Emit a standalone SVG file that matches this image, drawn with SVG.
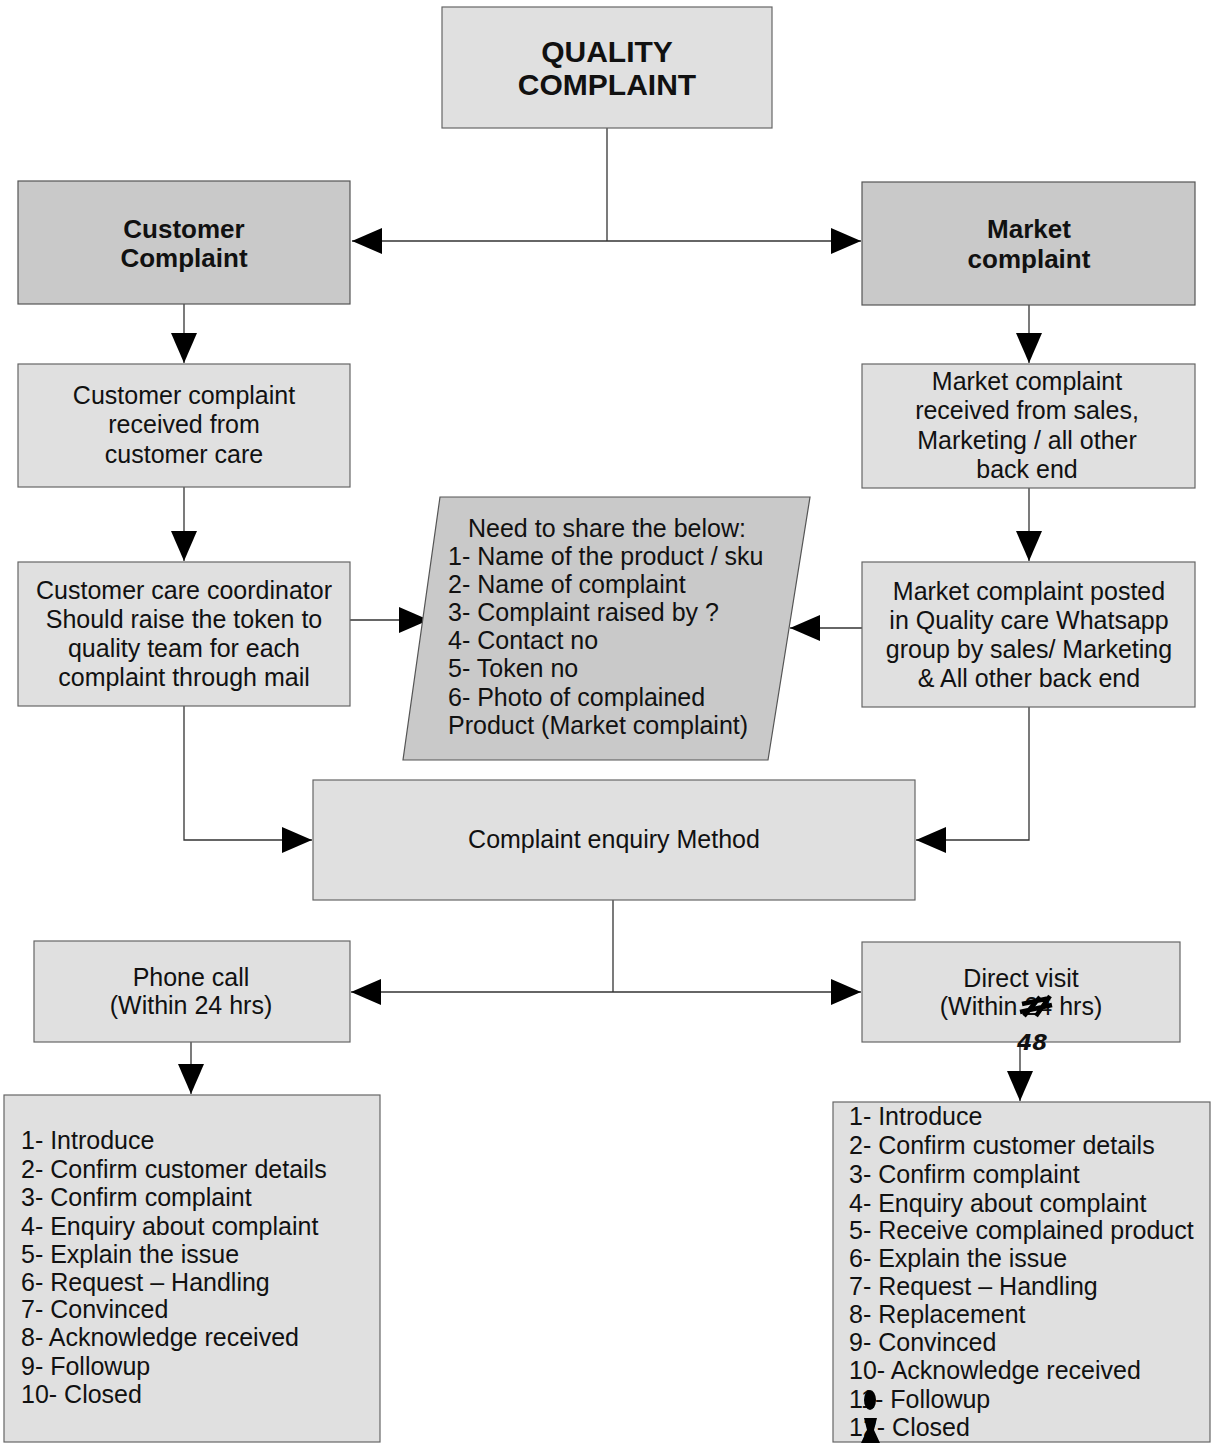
<svg xmlns="http://www.w3.org/2000/svg" width="1213" height="1444" viewBox="0 0 1213 1444">
<style>
text{font-family:"Liberation Sans",Arial,sans-serif;fill:#111;font-size:25px}
.c{text-anchor:middle}
.h1{font-size:30px;font-weight:bold}
.h2{font-size:26px;font-weight:bold}
.lt{fill:#e0e0e0;stroke:#666;stroke-width:1.2}
.dk{fill:#c9c9c9;stroke:#555;stroke-width:1.2}
.ln{fill:none;stroke:#333;stroke-width:1.3}
.hand{font-family:"DejaVu Sans",sans-serif;font-weight:bold;font-style:italic;font-size:22px}
</style>
<defs>
<marker id="ah" markerUnits="userSpaceOnUse" markerWidth="30" markerHeight="26" refX="30" refY="13" orient="auto">
<path d="M0,0 L30,13 L0,26 Z" fill="#000"/>
</marker>
</defs>
<rect width="1213" height="1444" fill="#fff"/>

<g id="connectors">
<path class="ln" d="M607,128 V241"/>
<path class="ln" d="M607,241 H352" marker-end="url(#ah)"/>
<path class="ln" d="M607,241 H861" marker-end="url(#ah)"/>
<path class="ln" d="M184,304 V363" marker-end="url(#ah)"/>
<path class="ln" d="M184,487 V561" marker-end="url(#ah)"/>
<path class="ln" d="M1029,305 V363" marker-end="url(#ah)"/>
<path class="ln" d="M1029,488 V561" marker-end="url(#ah)"/>
<path class="ln" d="M350,620 H429" marker-end="url(#ah)"/>
<path class="ln" d="M862,628 H790" marker-end="url(#ah)"/>
<path class="ln" d="M184,706 V840 H312" marker-end="url(#ah)"/>
<path class="ln" d="M1029,707 V840 H916" marker-end="url(#ah)"/>
<path class="ln" d="M613,900 V992"/>
<path class="ln" d="M613,992 H351" marker-end="url(#ah)"/>
<path class="ln" d="M613,992 H861" marker-end="url(#ah)"/>
<path class="ln" d="M191,1042 V1094" marker-end="url(#ah)"/>
<path class="ln" d="M1020,1042 V1101" marker-end="url(#ah)"/>
</g>

<g id="quality-complaint">
<rect class="lt" x="442" y="7" width="330" height="121"/>
<text class="c h1" x="607" y="62">QUALITY</text>
<text class="c h1" x="607" y="95">COMPLAINT</text>
</g>

<g id="customer-complaint">
<rect class="dk" x="18" y="181" width="332" height="123"/>
<text class="c h2" x="184" y="238">Customer</text>
<text class="c h2" x="184" y="267">Complaint</text>
</g>

<g id="market-complaint">
<rect class="dk" x="862" y="182" width="333" height="123"/>
<text class="c h2" x="1029" y="238">Market</text>
<text class="c h2" x="1029" y="268">complaint</text>
</g>

<g id="customer-received">
<rect class="lt" x="18" y="364" width="332" height="123"/>
<text class="c" x="184" y="404">Customer complaint</text>
<text class="c" x="184" y="433">received from</text>
<text class="c" x="184" y="463">customer care</text>
</g>

<g id="market-received">
<rect class="lt" x="862" y="364" width="333" height="124"/>
<text class="c" x="1027" y="390">Market complaint</text>
<text class="c" x="1027" y="419">received from sales,</text>
<text class="c" x="1027" y="449">Marketing / all other</text>
<text class="c" x="1027" y="478">back end</text>
</g>

<g id="coordinator">
<rect class="lt" x="18" y="562" width="332" height="144"/>
<text class="c" x="184" y="599">Customer care coordinator</text>
<text class="c" x="184" y="628">Should raise the token to</text>
<text class="c" x="184" y="657">quality team for each</text>
<text class="c" x="184" y="686">complaint through mail</text>
</g>

<g id="market-posted">
<rect class="lt" x="862" y="562" width="333" height="145"/>
<text class="c" x="1029" y="600">Market complaint posted</text>
<text class="c" x="1029" y="629">in Quality care Whatsapp</text>
<text class="c" x="1029" y="658">group by sales/ Marketing</text>
<text class="c" x="1029" y="687">&amp; All other back end</text>
</g>

<g id="share-info">
<path class="dk" d="M440,497 L810,497 L768,760 L403,760 Z"/>
<text x="468" y="537">Need to share the below:</text>
<text x="448" y="565">1- Name of the product / sku</text>
<text x="448" y="593">2- Name of complaint</text>
<text x="448" y="621">3- Complaint raised by ?</text>
<text x="448" y="649">4- Contact no</text>
<text x="448" y="677">5- Token no</text>
<text x="448" y="706">6- Photo of complained</text>
<text x="448" y="734">Product (Market complaint)</text>
</g>

<g id="enquiry-method">
<rect class="lt" x="313" y="780" width="602" height="120"/>
<text class="c" x="614" y="848">Complaint enquiry Method</text>
</g>

<g id="phone-call">
<rect class="lt" x="34" y="941" width="316" height="101"/>
<text class="c" x="191" y="986">Phone call</text>
<text class="c" x="191" y="1014">(Within 24 hrs)</text>
</g>

<g id="direct-visit">
<rect class="lt" x="862" y="942" width="318" height="100"/>
<text class="c" x="1021" y="987">Direct visit</text>
<text class="c" x="1021" y="1015">(Within 24 hrs)</text>
<path d="M1022,1004 L1050,998 M1020,1012 L1052,1005 M1024,1016 L1040,997 M1036,1016 L1050,996" fill="none" stroke="#000" stroke-width="4.5"/>
<text class="hand" x="1017" y="1050">48</text>
</g>

<g id="phone-steps">
<rect class="lt" x="4" y="1095" width="376" height="347"/>
<text x="21" y="1149">1- Introduce</text>
<text x="21" y="1178">2- Confirm customer details</text>
<text x="21" y="1206">3- Confirm complaint</text>
<text x="21" y="1235">4- Enquiry about complaint</text>
<text x="21" y="1263">5- Explain the issue</text>
<text x="21" y="1291">6- Request – Handling</text>
<text x="21" y="1318">7- Convinced</text>
<text x="21" y="1346">8- Acknowledge received</text>
<text x="21" y="1375">9- Followup</text>
<text x="21" y="1403">10- Closed</text>
</g>

<g id="visit-steps">
<rect class="lt" x="833" y="1102" width="377" height="340"/>
<text x="849" y="1125">1- Introduce</text>
<text x="849" y="1154">2- Confirm customer details</text>
<text x="849" y="1183">3- Confirm complaint</text>
<text x="849" y="1212">4- Enquiry about complaint</text>
<text x="849" y="1239">5- Receive complained product</text>
<text x="849" y="1267">6- Explain the issue</text>
<text x="849" y="1295">7- Request – Handling</text>
<text x="849" y="1323">8- Replacement</text>
<text x="849" y="1351">9- Convinced</text>
<text x="849" y="1379">10- Acknowledge received</text>
<text x="849" y="1408">11- Followup</text>
<text x="849" y="1436">12- Closed</text>
<ellipse cx="870" cy="1400" rx="6" ry="10" fill="#000"/>
<path d="M864,1418 L877,1418 L874,1430 L880,1443 L861,1443 L867,1430 Z" fill="#000"/>
</g>
</svg>
